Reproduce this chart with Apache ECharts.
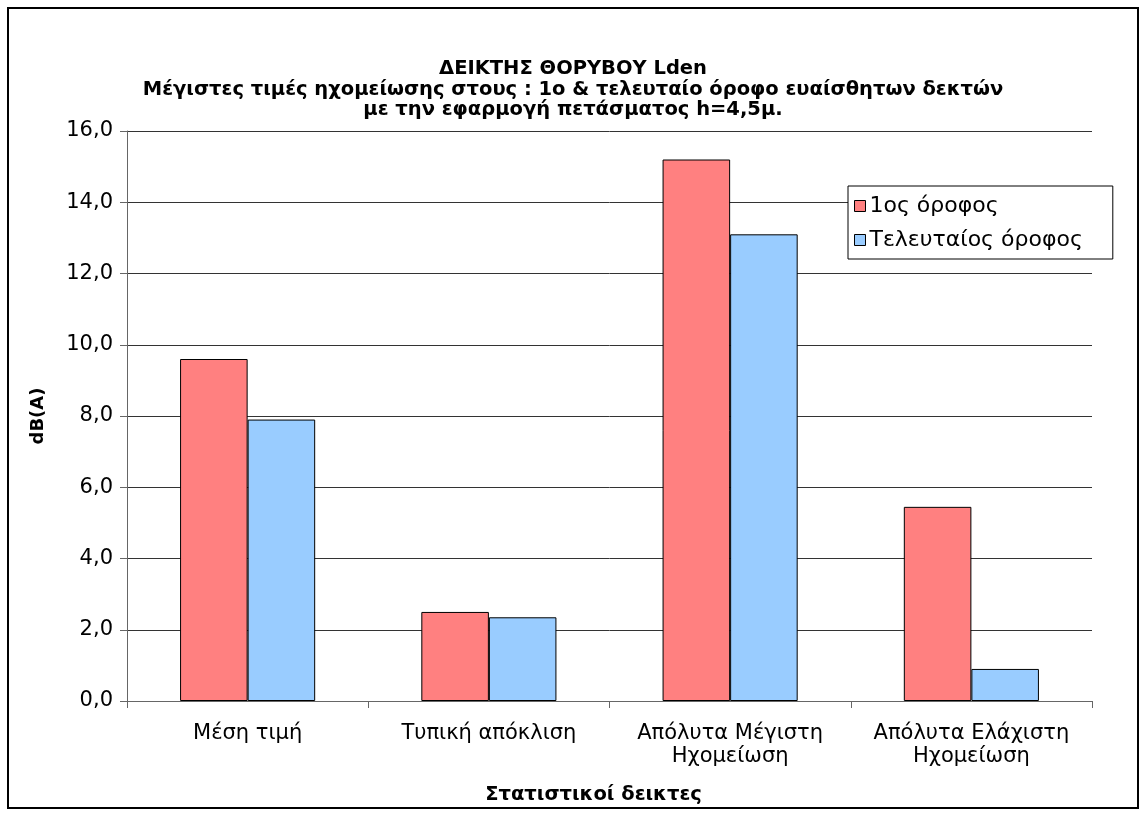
<!DOCTYPE html>
<html>
<head>
<meta charset="utf-8">
<script src="https://cdn.jsdelivr.net/npm/echarts@6/dist/echarts.min.js"></script>
<style>
  html, body { margin: 0; padding: 0; background: #fff; }
  #chart { width: 1146px; height: 816px; }
</style>
</head>
<body>
<div id="chart"></div>
<script>
// κατηγορίες (στατιστικοί δείκτες)
var categories = ['Μέση τιμή', 'Τυπική απόκλιση', 'Απόλυτα Μέγιστη\nΗχομείωση', 'Απόλυτα Ελάχιστη\nΗχομείωση'];
// τιμές dB(A)
var firstFloor = [9.6, 2.5, 15.2, 5.45];
var lastFloor = [7.9, 2.35, 13.1, 0.9];
var seriesNames = ['1ος όροφος', 'Τελευταίος όροφος'];

var font = 'DejaVu Sans, Verdana, sans-serif';

var chart = echarts.init(document.getElementById('chart'));

chart.setOption({
  backgroundColor: '#fff',
  animation: false,
  textStyle: { fontFamily: font, color: '#000' },
  graphic: [{
    type: 'rect',
    shape: { x: 8, y: 8, width: 1130, height: 800 },
    style: { fill: 'none', stroke: '#000', lineWidth: 2 },
    silent: true
  }],
  title: {
    text: 'ΔΕΙΚΤΗΣ ΘΟΡΥΒΟΥ Lden\nΜέγιστες τιμές ηχομείωσης στους : 1ο & τελευταίο όροφο ευαίσθητων δεκτών\nμε την εφαρμογή πετάσματος h=4,5μ.',
    left: 'center',
    top: 54,
    textStyle: { fontFamily: font, fontSize: 19.5, fontWeight: 'bold', lineHeight: 20.5, color: '#000' }
  },
  legend: {
    orient: 'vertical',
    left: 848,
    top: 186,
    padding: [9, 30, 8, 6],
    itemGap: 12,
    itemWidth: 11,
    itemHeight: 11,
    icon: 'rect',
    borderColor: '#000',
    borderWidth: 1,
    backgroundColor: '#fff',
    itemStyle: { borderColor: '#000', borderWidth: 1 },
    textStyle: { fontFamily: font, fontSize: 22, color: '#000', padding: [0, 0, 0, -1] },
    data: seriesNames
  },
  grid: { left: 127, right: 54, top: 131, bottom: 115 },
  xAxis: {
    type: 'category',
    data: categories,
    name: 'Στατιστικοί δεικτες',
    nameLocation: 'middle',
    nameGap: 84,
    nameTextStyle: { fontFamily: font, fontSize: 19.5, fontWeight: 'bold', color: '#000', padding: [0, 32, 0, 0] },
    axisLine: { lineStyle: { color: '#666', width: 1 } },
    axisTick: { show: true, alignWithLabel: false, length: 7, lineStyle: { color: '#666' } },
    axisLabel: { fontFamily: font, fontSize: 21, color: '#000', margin: 21, lineHeight: 23, interval: 0 }
  },
  yAxis: {
    type: 'value',
    min: 0,
    max: 16,
    interval: 2,
    name: 'dB(A)',
    nameLocation: 'middle',
    nameRotate: 90,
    nameGap: 80,
    nameTextStyle: { fontFamily: font, fontSize: 18, fontWeight: 'bold', color: '#000' },
    axisLine: { show: true, lineStyle: { color: '#666', width: 1 } },
    axisTick: { show: true, length: 7, lineStyle: { color: '#666' } },
    axisLabel: {
      fontFamily: font, fontSize: 21, color: '#000', margin: 14,
      formatter: function (v) { return v.toFixed(1).replace('.', ','); }
    },
    splitLine: { show: true, lineStyle: { color: '#333', width: 1 } }
  },
  series: [{
    name: seriesNames[0],
    type: 'bar',
    data: firstFloor,
    barGap: '0%',
    barCategoryGap: '44%',
    itemStyle: { color: '#FF8080', borderColor: '#000', borderWidth: 1 }
  }, {
    name: seriesNames[1],
    type: 'bar',
    data: lastFloor,
    itemStyle: { color: '#99CCFF', borderColor: '#000', borderWidth: 1 }
  }]
});
</script>
</body>
</html>
